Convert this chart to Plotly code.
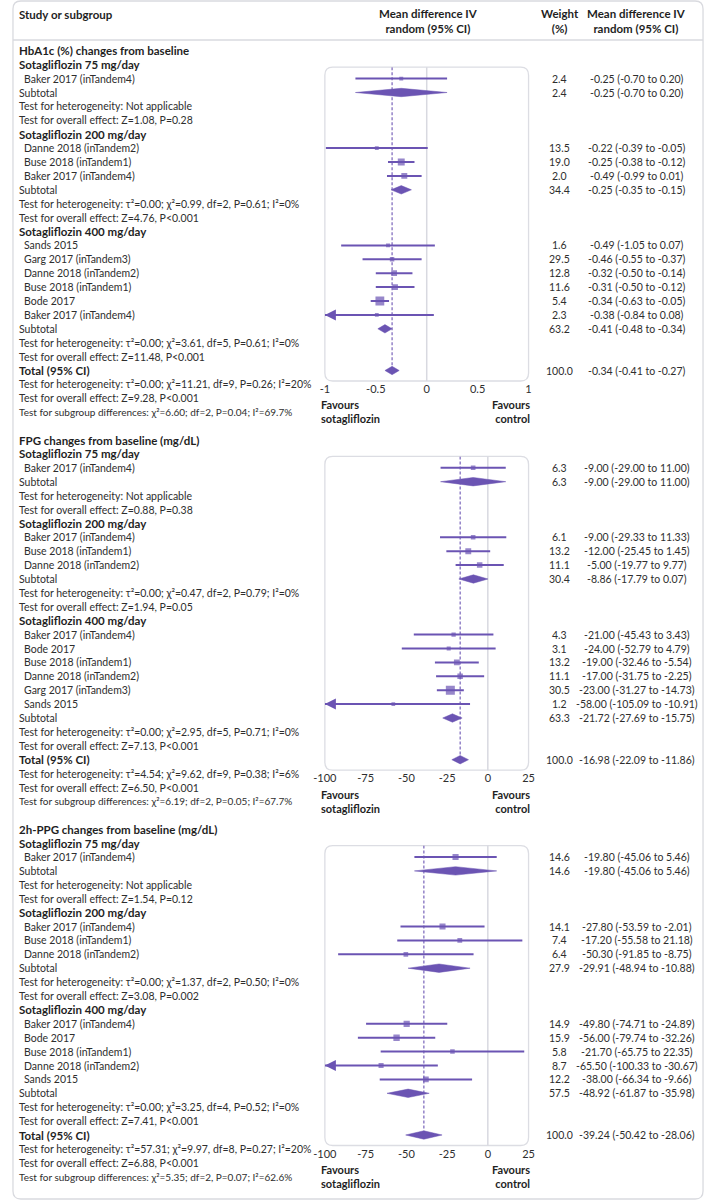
import plotly.graph_objects as go

# ---------------------------------------------------------------- data
HBA1C_TITLE = "HbA1c (%) changes from baseline"
HBA1C_GROUPS = ["Sotagliflozin 75 mg/day", "Sotagliflozin 200 mg/day", "Sotagliflozin 400 mg/day"]
HBA1C_STUDIES = [["Baker 2017 (inTandem4)"],
                 ["Danne 2018 (inTandem2)", "Buse 2018 (inTandem1)", "Baker 2017 (inTandem4)"],
                 ["Sands 2015", "Garg 2017 (inTandem3)", "Danne 2018 (inTandem2)",
                  "Buse 2018 (inTandem1)", "Bode 2017", "Baker 2017 (inTandem4)"]]
HBA1C_WEIGHT = [[2.4], [13.5, 19.0, 2.0], [1.6, 29.5, 12.8, 11.6, 5.4, 2.3]]
HBA1C_MD = [[-0.25], [-0.22, -0.25, -0.49], [-0.49, -0.46, -0.32, -0.31, -0.34, -0.38]]
HBA1C_LO = [[-0.70], [-0.39, -0.38, -0.99], [-1.05, -0.55, -0.50, -0.50, -0.63, -0.84]]
HBA1C_HI = [[0.20], [-0.05, -0.12, 0.01], [0.07, -0.37, -0.14, -0.12, -0.05, 0.08]]
# in the reference picture some HbA1c rows show another study's estimate
HBA1C_DRAWN = [[0], [2, 1, 0], [5, 4, 2, 3, 1, 0]]
HBA1C_SUB_WEIGHT = [2.4, 34.4, 63.2]
HBA1C_SUB_MD = [-0.25, -0.25, -0.41]
HBA1C_SUB_LO = [-0.70, -0.35, -0.48]
HBA1C_SUB_HI = [0.20, -0.15, -0.34]
HBA1C_HET = ["Not applicable", "τ²=0.00; χ²=0.99, df=2, P=0.61; I²=0%",
             "τ²=0.00; χ²=3.61, df=5, P=0.61; I²=0%"]
HBA1C_Z = ["Z=1.08, P=0.28", "Z=4.76, P<0.001", "Z=11.48, P<0.001"]
HBA1C_TOTAL = [100.0, -0.34, -0.41, -0.27]
HBA1C_TOTAL_HET = "τ²=0.00; χ²=11.21, df=9, P=0.26; I²=20%"
HBA1C_TOTAL_Z = "Z=9.28, P<0.001"
HBA1C_SUBGROUP = "χ²=6.60; df=2, P=0.04; I²=69.7%"
HBA1C_RANGE = [-1, 1]
HBA1C_TICKS = [-1, -0.5, 0, 0.5, 1]
HBA1C_TICKTEXT = ["-1", "-0.5", "0", "0.5", "1"]

FPG_TITLE = "FPG changes from baseline (mg/dL)"
FPG_GROUPS = ["Sotagliflozin 75 mg/day", "Sotagliflozin 200 mg/day", "Sotagliflozin 400 mg/day"]
FPG_STUDIES = [["Baker 2017 (inTandem4)"],
               ["Baker 2017 (inTandem4)", "Buse 2018 (inTandem1)", "Danne 2018 (inTandem2)"],
               ["Baker 2017 (inTandem4)", "Bode 2017", "Buse 2018 (inTandem1)",
                "Danne 2018 (inTandem2)", "Garg 2017 (inTandem3)", "Sands 2015"]]
FPG_WEIGHT = [[6.3], [6.1, 13.2, 11.1], [4.3, 3.1, 13.2, 11.1, 30.5, 1.2]]
FPG_MD = [[-9.00], [-9.00, -12.00, -5.00], [-21.00, -24.00, -19.00, -17.00, -23.00, -58.00]]
FPG_LO = [[-29.00], [-29.33, -25.45, -19.77], [-45.43, -52.79, -32.46, -31.75, -31.27, -105.09]]
FPG_HI = [[11.00], [11.33, 1.45, 9.77], [3.43, 4.79, -5.54, -2.25, -14.73, -10.91]]
FPG_DRAWN = [[0], [0, 1, 2], [0, 1, 2, 3, 4, 5]]
FPG_SUB_WEIGHT = [6.3, 30.4, 63.3]
FPG_SUB_MD = [-9.00, -8.86, -21.72]
FPG_SUB_LO = [-29.00, -17.79, -27.69]
FPG_SUB_HI = [11.00, 0.07, -15.75]
FPG_HET = ["Not applicable", "τ²=0.00; χ²=0.47, df=2, P=0.79; I²=0%",
           "τ²=0.00; χ²=2.95, df=5, P=0.71; I²=0%"]
FPG_Z = ["Z=0.88, P=0.38", "Z=1.94, P=0.05", "Z=7.13, P<0.001"]
FPG_TOTAL = [100.0, -16.98, -22.09, -11.86]
FPG_TOTAL_HET = "τ²=4.54; χ²=9.62, df=9, P=0.38; I²=6%"
FPG_TOTAL_Z = "Z=6.50, P<0.001"
FPG_SUBGROUP = "χ²=6.19; df=2, P=0.05; I²=67.7%"
FPG_RANGE = [-100, 25]
FPG_TICKS = [-100, -75, -50, -25, 0, 25]
FPG_TICKTEXT = ["-100", "-75", "-50", "-25", "0", "25"]

PPG_TITLE = "2h-PPG changes from baseline (mg/dL)"
PPG_GROUPS = ["Sotagliflozin 75 mg/day", "Sotagliflozin 200 mg/day", "Sotagliflozin 400 mg/day"]
PPG_STUDIES = [["Baker 2017 (inTandem4)"],
               ["Baker 2017 (inTandem4)", "Buse 2018 (inTandem1)", "Danne 2018 (inTandem2)"],
               ["Baker 2017 (inTandem4)", "Bode 2017", "Buse 2018 (inTandem1)",
                "Danne 2018 (inTandem2)", "Sands 2015"]]
PPG_WEIGHT = [[14.6], [14.1, 7.4, 6.4], [14.9, 15.9, 5.8, 8.7, 12.2]]
PPG_MD = [[-19.80], [-27.80, -17.20, -50.30], [-49.80, -56.00, -21.70, -65.50, -38.00]]
PPG_LO = [[-45.06], [-53.59, -55.58, -91.85], [-74.71, -79.74, -65.75, -100.33, -66.34]]
PPG_HI = [[5.46], [-2.01, 21.18, -8.75], [-24.89, -32.26, 22.35, -30.67, -9.66]]
PPG_DRAWN = [[0], [0, 1, 2], [0, 1, 2, 3, 4]]
PPG_SUB_WEIGHT = [14.6, 27.9, 57.5]
PPG_SUB_MD = [-19.80, -29.91, -48.92]
PPG_SUB_LO = [-45.06, -48.94, -61.87]
PPG_SUB_HI = [5.46, -10.88, -35.98]
PPG_HET = ["Not applicable", "τ²=0.00; χ²=1.37, df=2, P=0.50; I²=0%",
           "τ²=0.00; χ²=3.25, df=4, P=0.52; I²=0%"]
PPG_Z = ["Z=1.54, P=0.12", "Z=3.08, P=0.002", "Z=7.41, P<0.001"]
PPG_TOTAL = [100.0, -39.24, -50.42, -28.06]
PPG_TOTAL_HET = "τ²=57.31; χ²=9.97, df=8, P=0.27; I²=20%"
PPG_TOTAL_Z = "Z=6.88, P<0.001"
PPG_SUBGROUP = "χ²=5.35; df=2, P=0.07; I²=62.6%"
PPG_RANGE = [-100, 25]
PPG_TICKS = [-100, -75, -50, -25, 0, 25]
PPG_TICKTEXT = ["-100", "-75", "-50", "-25", "0", "25"]

HEADER_LEFT = "Study or subgroup"
HEADER_MD = ["Mean difference IV", "random (95% CI)"]
HEADER_W = ["Weight", "(%)"]
FAVOURS_LEFT = ["Favours", "sotagliflozin"]
FAVOURS_RIGHT = ["Favours", "control"]

# ---------------------------------------------------------------- layout constants
W, H = 710, 1200
Y0, STEP = 50.8, 13.9
PX_L, PX_R = 321, 530
LX, SX, WX, CX = 6, 11, 562, 641
PURPLE = "#6b54b3"
TXT = "#2e2e2e"
DARK = "#1f1f1f"
FONT = "Lato"
FS = 10.5
FS_SMALL = 10
FS_BOLD = 11.5
FS_HEAD = 11.5
HALF = 4.2 / STEP  # half height of diamonds in row units


def ypx(r):
    return Y0 + STEP * r


def row_of(px):
    return (px - Y0) / STEP


ann = []
shapes = []
fig = go.Figure()


def text(x, y, s, anchor="left", bold=False, size=None, color=TXT):
    if size is None:
        size = FS_BOLD if bold else FS
    ann.append(dict(x=x / W, y=1 - y / H, xref="paper", yref="paper",
                    text=f"<b>{s}</b>" if bold else s, showarrow=False,
                    xanchor=anchor, yanchor="middle", align=anchor,
                    borderpad=0, font=dict(family=FONT, size=size, color=DARK if bold else color)))


def rrect(x0, y0, x1, y1, r):
    def p(x, y):
        return f"{x / W:.6f},{1 - y / H:.6f}"
    return (f"M{p(x0 + r, y0)} L{p(x1 - r, y0)} Q{p(x1, y0)} {p(x1, y0 + r)} "
            f"L{p(x1, y1 - r)} Q{p(x1, y1)} {p(x1 - r, y1)} L{p(x0 + r, y1)} "
            f"Q{p(x0, y1)} {p(x0, y1 - r)} L{p(x0, y0 + r)} Q{p(x0, y0)} {p(x0 + r, y0)} Z")


def ci(m, l, h):
    return f"{m:.2f} ({l:.2f} to {h:.2f})"


def panel(idx, start, title, groups, studies, weight, md, lo, hi, drawn,
          sw, smd, slo, shi, het, z, total, thet, tz, subg, xr, ticks, ticktext):
    ax = "" if idx == 1 else str(idx)
    xname, yname = "x" + ax, "y" + ax
    r = start
    text(LX, ypx(r), title, bold=True)
    r += 1
    first = r
    lx, ly, mx, my, ms = [], [], [], [], []
    dx, dy = [], []

    def diamond(row, m, l, h):
        dx.extend([l, m, h, m, l, None])
        dy.extend([row, row - HALF, row, row + HALF, row, None])

    for g in range(len(groups)):
        text(LX, ypx(r), groups[g], bold=True)
        r += 1
        for j, name in enumerate(studies[g]):
            text(SX, ypx(r), name)
            text(WX, ypx(r), f"{weight[g][j]:.1f}", "center")
            text(CX, ypx(r), ci(md[g][j], lo[g][j], hi[g][j]), "center")
            k = drawn[g][j]
            l, h = lo[g][k], hi[g][k]
            if l < xr[0]:
                l = xr[0]
                ann.append(dict(x=xr[0], y=r, xref=xname, yref=yname, ax=10, ay=0,
                                showarrow=True, arrowhead=2, arrowsize=1.1, arrowwidth=2,
                                arrowcolor=PURPLE, text="", standoff=0))
            lx.extend([l, min(h, xr[1]), None])
            ly.extend([r, r, None])
            mx.append(md[g][k])
            my.append(r)
            ms.append(3.5 + 0.18 * weight[g][k])
            r += 1
        text(LX, ypx(r), "Subtotal")
        text(WX, ypx(r), f"{sw[g]:.1f}", "center")
        text(CX, ypx(r), ci(smd[g], slo[g], shi[g]), "center")
        diamond(r, smd[g], slo[g], shi[g])
        r += 1
        text(LX, ypx(r), "Test for heterogeneity: " + het[g])
        r += 1
        text(LX, ypx(r), "Test for overall effect: " + z[g])
        r += 1
    total_row = r
    text(LX, ypx(r), "Total (95% CI)", bold=True)
    text(WX, ypx(r), f"{total[0]:.1f}", "center")
    text(CX, ypx(r), ci(total[1], total[2], total[3]), "center")
    diamond(r, total[1], total[2], total[3])
    r += 1
    text(LX, ypx(r), "Test for heterogeneity: " + thet)
    r += 1
    text(LX, ypx(r), "Test for overall effect: " + tz)
    r += 1
    text(LX, ypx(r), "Test for subgroup differences: " + subg, size=FS_SMALL)
    r += 1

    top_px = ypx(first) + 2.5
    bot_px = ypx(total_row) + 10.5

    fig.add_trace(go.Scatter(x=dx, y=dy, mode="lines", fill="toself", fillcolor=PURPLE,
                             line=dict(color=PURPLE, width=0.5), xaxis=xname, yaxis=yname,
                             hoverinfo="skip", showlegend=False))
    fig.add_trace(go.Scatter(x=lx, y=ly, mode="lines", line=dict(color=PURPLE, width=2),
                             xaxis=xname, yaxis=yname, hoverinfo="skip", showlegend=False))
    fig.add_trace(go.Scatter(x=mx, y=my, mode="markers",
                             marker=dict(symbol="square", size=ms, color=PURPLE,
                                         line=dict(width=0)),
                             xaxis=xname, yaxis=yname, showlegend=False))

    fig.update_layout({
        "xaxis" + ax: dict(domain=[PX_L / W, PX_R / W], range=xr, tickvals=ticks,
                           ticktext=ticktext, showgrid=False, zeroline=False,
                           showline=False, ticks="", anchor=yname, fixedrange=True,
                           tickfont=dict(family=FONT, size=11, color=TXT)),
        "yaxis" + ax: dict(domain=[1 - bot_px / H, 1 - top_px / H],
                           range=[row_of(bot_px), row_of(top_px)], visible=False,
                           anchor=xname, fixedrange=True),
    })
    # box
    shapes.append(dict(type="path", xref="paper", yref="paper",
                       path=rrect(PX_L, top_px, PX_R, bot_px, 8),
                       line=dict(color="#dcdde3", width=1.3), layer="below"))
    # line of no effect
    shapes.append(dict(type="line", xref=xname, yref=yname + " domain", x0=0, x1=0,
                       y0=0, y1=1, line=dict(color="#d8d9e0", width=1.5), layer="below"))
    # overall estimate (dashed)
    shapes.append(dict(type="line", xref=xname, yref=yname, x0=total[1], x1=total[1],
                       y0=row_of(top_px), y1=total_row - HALF,
                       line=dict(color=PURPLE, width=1.1, dash="3px,2px"), layer="below"))
    # favours labels (two lines in one text)
    fy = bot_px + 31
    text(PX_L - 5, fy, "<br>".join(FAVOURS_LEFT), bold=True, size=11)
    text(PX_R + 2, fy, "<br>".join(FAVOURS_RIGHT), anchor="right", bold=True, size=11)
    return r + 1


nxt = panel(1, 0, HBA1C_TITLE, HBA1C_GROUPS, HBA1C_STUDIES, HBA1C_WEIGHT, HBA1C_MD,
            HBA1C_LO, HBA1C_HI, HBA1C_DRAWN, HBA1C_SUB_WEIGHT, HBA1C_SUB_MD, HBA1C_SUB_LO,
            HBA1C_SUB_HI, HBA1C_HET, HBA1C_Z, HBA1C_TOTAL, HBA1C_TOTAL_HET, HBA1C_TOTAL_Z,
            HBA1C_SUBGROUP, HBA1C_RANGE, HBA1C_TICKS, HBA1C_TICKTEXT)
nxt = panel(2, nxt, FPG_TITLE, FPG_GROUPS, FPG_STUDIES, FPG_WEIGHT, FPG_MD, FPG_LO, FPG_HI,
            FPG_DRAWN, FPG_SUB_WEIGHT, FPG_SUB_MD, FPG_SUB_LO, FPG_SUB_HI, FPG_HET, FPG_Z,
            FPG_TOTAL, FPG_TOTAL_HET, FPG_TOTAL_Z, FPG_SUBGROUP, FPG_RANGE, FPG_TICKS,
            FPG_TICKTEXT)
nxt = panel(3, nxt, PPG_TITLE, PPG_GROUPS, PPG_STUDIES, PPG_WEIGHT, PPG_MD, PPG_LO, PPG_HI,
            PPG_DRAWN, PPG_SUB_WEIGHT, PPG_SUB_MD, PPG_SUB_LO, PPG_SUB_HI, PPG_HET, PPG_Z,
            PPG_TOTAL, PPG_TOTAL_HET, PPG_TOTAL_Z, PPG_SUBGROUP, PPG_RANGE, PPG_TICKS,
            PPG_TICKTEXT)

# header
text(6, 14.5, HEADER_LEFT, bold=True, size=FS_HEAD)
text(427, 21, "<br>".join(HEADER_MD), anchor="center", bold=True, size=FS_HEAD)
text(WX, 21, "<br>".join(HEADER_W), anchor="center", bold=True, size=FS_HEAD)
text(CX, 21, "<br>".join(HEADER_MD), anchor="center", bold=True, size=FS_HEAD)

# outer frame and header divider
shapes.append(dict(type="path", xref="paper", yref="paper", path=rrect(1, 1, 709, 1199, 8),
                   line=dict(color="#d9dadf", width=1.3), layer="below"))
shapes.append(dict(type="line", xref="paper", yref="paper", x0=1 / W, x1=709 / W,
                   y0=1 - 40 / H, y1=1 - 40 / H, line=dict(color="#d9dadf", width=1.3),
                   layer="below"))

fig.update_layout(width=W, height=H, margin=dict(l=0, r=0, t=0, b=0),
                  paper_bgcolor="white", plot_bgcolor="rgba(0,0,0,0)",
                  showlegend=False, annotations=ann, shapes=shapes,
                  font=dict(family=FONT, size=FS, color=TXT))

fig.write_html("out.html", config={"displayModeBar": False, "staticPlot": True},
               post_script="document.body.style.margin='0';document.body.style.overflow='hidden';")
